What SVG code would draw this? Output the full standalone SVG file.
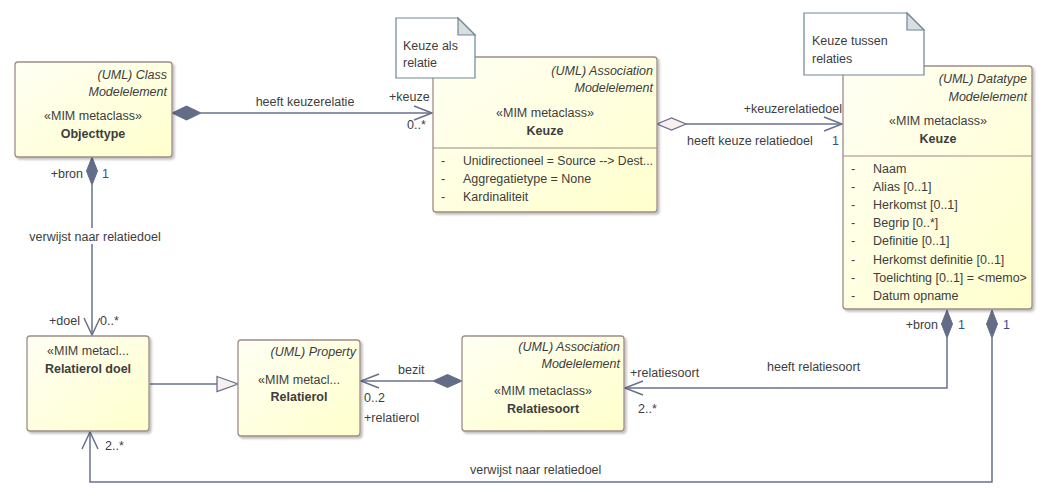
<svg xmlns="http://www.w3.org/2000/svg" width="1049" height="496" viewBox="0 0 1049 496">
<defs>
<linearGradient id="gy" x1="0" y1="0" x2="1" y2="1">
<stop offset="0" stop-color="#FFFFF4"/>
<stop offset="1" stop-color="#FFFFCC"/>
</linearGradient>
<filter id="sh" x="-10%" y="-10%" width="130%" height="130%">
<feDropShadow dx="2" dy="2" stdDeviation="1.2" flood-color="#000" flood-opacity="0.25"/>
</filter>
</defs>
<style>
text{font-family:"Liberation Sans",Arial,sans-serif;font-size:12.5px;fill:#3d3d3d}
.it{font-style:italic;text-anchor:end}
.c{text-anchor:middle}
.b{font-weight:bold}
.e{text-anchor:end}
.box{fill:url(#gy);stroke:#A08C86;stroke-width:1.3;filter:url(#sh)}
.sep{stroke:#A08C86;stroke-width:1.2}
.note{fill:#fff;stroke:#6E8794;stroke-width:1.2}
.fold{fill:#D9DEE2;stroke:#6E8794;stroke-width:1.2}
.ln{fill:none;stroke:#68708C;stroke-width:1.5}
.fd{fill:#646D88;stroke:#646D88;stroke-width:1}
.od{fill:#F9EFEF;stroke:#68708C;stroke-width:1.3}
.m{fill:#34508A}
</style>

<g id="connectors">
<!-- Objecttype -> Keuze association -->
<line class="ln" x1="201" y1="113" x2="432" y2="113"/>
<polygon class="fd" points="172,113 186.5,106 201,113 186.5,120"/>
<polyline class="ln" points="414,106 432,113 414,120"/>
<text x="305" y="106" class="c">heeft keuzerelatie</text>
<text x="389" y="101">+keuze</text>
<text x="407" y="129">0..*</text>

<!-- Keuze association -> Keuze datatype -->
<line class="ln" x1="686" y1="124" x2="842" y2="124"/>
<polygon class="od" points="657,124 671.5,118 686,124 671.5,130"/>
<polyline class="ln" points="824,117 842,124 824,131"/>
<text x="842" y="113" class="e">+keuzerelatiedoel</text>
<text x="687" y="145">heeft keuze relatiedoel</text>
<text x="832" y="145" class="m">1</text>

<!-- Objecttype -> Relatierol doel -->
<line class="ln" x1="92" y1="185" x2="92" y2="335"/>
<polygon class="fd" points="92,157 97.5,171 92,185 86.5,171"/>
<polyline class="ln" points="84,318 92,335 100,318"/>
<text x="83" y="178" class="e">+bron</text>
<text x="102" y="178" class="m">1</text>
<rect x="22" y="228" width="146" height="16" fill="#fff"/>
<text x="95" y="241" class="c">verwijst naar relatiedoel</text>
<text x="80" y="325" class="e">+doel</text>
<text x="100" y="325">0..*</text>

<!-- Relatierol doel -> Relatierol (generalization) -->
<line class="ln" x1="150" y1="384" x2="217" y2="384"/>
<polygon class="od" points="217,376.5 238,384 217,391.5"/>

<!-- Relatiesoort -> Relatierol -->
<line class="ln" x1="362" y1="381" x2="433" y2="381"/>
<polygon class="fd" points="433,381 447.5,374.5 462,381 447.5,387.5"/>
<polyline class="ln" points="379,374 361,381 379,388"/>
<text x="398" y="374">bezit</text>
<text x="364" y="402">0..2</text>
<text x="364" y="422">+relatierol</text>

<!-- Keuze datatype -> Relatiesoort -->
<polyline class="ln" points="947,338 947,388 625,388"/>
<polygon class="fd" points="947,310 952.5,324 947,338 941.5,324"/>
<polyline class="ln" points="643,381 625,388 643,395"/>
<text x="938" y="329" class="e">+bron</text>
<text x="958" y="329" class="m">1</text>
<text x="767" y="371">heeft relatiesoort</text>
<text x="630" y="377">+relatiesoort</text>
<text x="638" y="413">2..*</text>

<!-- Keuze datatype -> Relatierol doel -->
<polyline class="ln" points="992,338 992,482 90,482 90,432"/>
<polygon class="fd" points="992,310 997.5,324 992,338 986.5,324"/>
<polyline class="ln" points="82,449 90,432 98,449"/>
<text x="1003" y="329" class="m">1</text>
<text x="470" y="474">verwijst naar relatiedoel</text>
<text x="105" y="450">2..*</text>
</g>

<g id="objecttype">
<rect class="box" x="15" y="62" width="157" height="95" rx="3"/>
<text x="167" y="79" class="it">(UML) Class</text>
<text x="167" y="96" class="it">Modelelement</text>
<text x="93" y="120" class="c">«MIM metaclass»</text>
<text x="93" y="138" class="c b">Objecttype</text>
</g>

<g id="keuze-association">
<rect class="box" x="433" y="57" width="224" height="155" rx="3"/>
<text x="653" y="75" class="it">(UML) Association</text>
<text x="653" y="92" class="it">Modelelement</text>
<text x="545" y="117" class="c">«MIM metaclass»</text>
<text x="545" y="135" class="c b">Keuze</text>
<line class="sep" x1="433" y1="148" x2="657" y2="148"/>
<text x="441" y="165">-</text><text x="463" y="165" textLength="190" lengthAdjust="spacingAndGlyphs">Unidirectioneel = Source --&gt; Dest...</text>
<text x="441" y="183">-</text><text x="463" y="183">Aggregatietype = None</text>
<text x="441" y="201">-</text><text x="463" y="201">Kardinaliteit</text>
</g>

<g id="note-keuze-als-relatie">
<path class="note" d="M396,18 H458 L475,35 V78 H396 Z"/>
<path class="fold" d="M458,18 V35 H475 Z"/>
<text x="403" y="50">Keuze als</text>
<text x="403" y="67">relatie</text>
</g>

<g id="keuze-datatype">
<rect class="box" x="843" y="66" width="189" height="243" rx="3"/>
<text x="1027" y="83" class="it">(UML) Datatype</text>
<text x="1027" y="101" class="it">Modelelement</text>
<text x="938" y="125" class="c">«MIM metaclass»</text>
<text x="938" y="143" class="c b">Keuze</text>
<line class="sep" x1="843" y1="156" x2="1032" y2="156"/>
<text x="851" y="173">-</text><text x="873" y="173">Naam</text>
<text x="851" y="191">-</text><text x="873" y="191">Alias [0..1]</text>
<text x="851" y="209">-</text><text x="873" y="209">Herkomst [0..1]</text>
<text x="851" y="227">-</text><text x="873" y="227">Begrip [0..*]</text>
<text x="851" y="245">-</text><text x="873" y="245">Definitie [0..1]</text>
<text x="851" y="264">-</text><text x="873" y="264">Herkomst definitie [0..1]</text>
<text x="851" y="282">-</text><text x="873" y="282">Toelichting [0..1] = &lt;memo&gt;</text>
<text x="851" y="300">-</text><text x="873" y="300">Datum opname</text>
</g>

<g id="note-keuze-tussen-relaties">
<path class="note" d="M804,13 H907 L924,30 V75 H804 Z"/>
<path class="fold" d="M907,13 V30 H924 Z"/>
<text x="812" y="45">Keuze tussen</text>
<text x="812" y="63">relaties</text>
</g>

<g id="relatierol-doel">
<rect class="box" x="27" y="336" width="122" height="95" rx="3"/>
<text x="88" y="355" class="c">«MIM metacl...</text>
<text x="88" y="373" class="c b">Relatierol doel</text>
</g>

<g id="relatierol">
<rect class="box" x="238" y="340" width="122" height="96" rx="3"/>
<text x="356" y="356" class="it">(UML) Property</text>
<text x="299" y="384" class="c">«MIM metacl...</text>
<text x="299" y="401" class="c b">Relatierol</text>
</g>

<g id="relatiesoort">
<rect class="box" x="462" y="336" width="162" height="95" rx="3"/>
<text x="620" y="351" class="it">(UML) Association</text>
<text x="620" y="368" class="it">Modelelement</text>
<text x="543" y="395" class="c">«MIM metaclass»</text>
<text x="543" y="413" class="c b">Relatiesoort</text>
</g>
</svg>
